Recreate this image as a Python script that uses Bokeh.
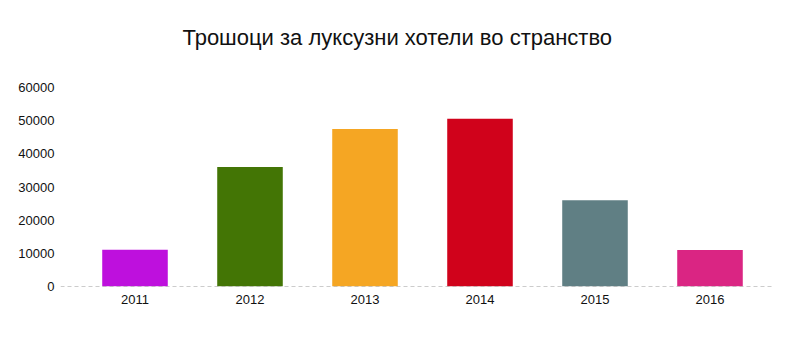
from bokeh.plotting import figure
from bokeh.layouts import column
from bokeh.models import Range1d, FixedTicker, Span, ColumnDataSource
from bokeh.core.properties import value
from bokeh.embed import file_html
from bokeh.resources import INLINE

years = ["2011", "2012", "2013", "2014", "2015", "2016"]
values = [11100, 36000, 47500, 50600, 26000, 11000]
colors = ["#BE10DD", "#437505", "#F5A623", "#D0021B", "#607F84", "#DA2583"]
y_ticks = [0, 10000, 20000, 30000, 40000, 50000, 60000]
title_text = "Трошоци за луксузни хотели во странство"

# ---- title strip ----
tp = figure(width=796, height=70, output_backend="svg", toolbar_location=None,
            x_range=Range1d(0, 796), y_range=Range1d(0, 70),
            min_border=0, title=None)
tp.axis.visible = False
tp.grid.visible = False
tp.outline_line_color = None
tp.background_fill_color = "white"
tp.border_fill_color = "white"
tp.text(x=[376.5], y=[33], text=[title_text], text_align="center",
        text_baseline="middle", text_font=value("Liberation Sans"),
        text_font_size="22px", text_color="#111111")

# ---- bar chart ----
xs = list(range(len(years)))
src = ColumnDataSource(dict(x=xs, top=values, color=colors))

p = figure(width=796, height=286, output_backend="svg", toolbar_location=None,
           x_range=Range1d(-0.5 - 17/115, len(years) - 0.5 + 5/115),
           y_range=Range1d(0, 60000),
           min_border_left=60, min_border_right=24, min_border_bottom=70,
           min_border_top=17, title=None)
p.outline_line_color = None
p.background_fill_color = "white"
p.border_fill_color = "white"

p.vbar(x="x", top="top", width=0.57, color="color", line_color=None, source=src)

base = Span(location=0, dimension="width", line_color="#999999",
            line_dash="4 3", line_width=1)
p.add_layout(base)

p.xgrid.visible = False
p.ygrid.visible = False

p.xaxis.ticker = FixedTicker(ticks=xs)
p.xaxis.major_label_overrides = {i: y for i, y in enumerate(years)}
p.xaxis.axis_line_color = None
p.xaxis.major_tick_line_color = None
p.xaxis.minor_tick_line_color = None
p.xaxis.major_label_text_font = "Liberation Sans"
p.xaxis.major_label_text_font_size = "13px"
p.xaxis.major_label_text_color = "#111111"
p.xaxis.major_label_standoff = 2

p.yaxis.ticker = FixedTicker(ticks=y_ticks)
p.yaxis.axis_line_color = None
p.yaxis.major_tick_line_color = None
p.yaxis.minor_tick_line_color = None
p.yaxis.major_label_text_font = "Liberation Sans"
p.yaxis.major_label_text_font_size = "13px"
p.yaxis.major_label_text_color = "#111111"
p.yaxis.major_label_standoff = 0
p.yaxis.formatter.use_scientific = False

layout = column(tp, p, spacing=0)

open("out.html", "w").write(file_html(layout, INLINE))
